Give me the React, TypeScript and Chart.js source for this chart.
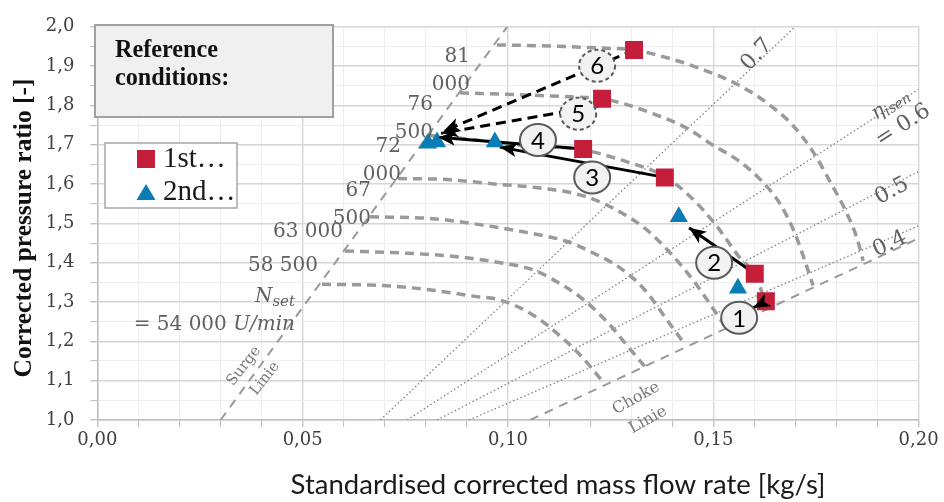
import React, { useEffect, useRef } from 'react';
import { Chart, registerables } from 'chart.js';
Chart.register(...registerables);

const RED = '#C41E3A';
const BLUE = '#0B7DB5';
const SPEED_GREY = '#9a9a9a';
const TEXT_GREY = '#606060';

// axis ranges
const xMin = 0, xMax = 0.2, xStep = 0.01;
const yMin = 1.0, yMax = 2.0, yStep = 0.05;

// measured operating points
const legendLabels = ['1st…', '2nd…'];
const firstX = [0.1307, 0.1229, 0.1183, 0.1382, 0.1601, 0.1628];
const firstY = [1.941, 1.817, 1.689, 1.617, 1.372, 1.302];
const secondX = [0.1560, 0.1416, 0.0968, 0.0827, 0.0805];
const secondY = [1.335, 1.517, 1.707, 1.707, 1.704];

// speed lines
const s54X = [0.0547, 0.0696, 0.0817, 0.0915, 0.0981, 0.1061, 0.1134, 0.1183, 0.1229];
const s54Y = [1.345, 1.342, 1.330, 1.315, 1.305, 1.267, 1.207, 1.157, 1.100];
const s58X = [0.0603, 0.0737, 0.0859, 0.0981, 0.1061, 0.1110, 0.1183, 0.1248, 0.1292, 0.1334];
const s58Y = [1.430, 1.425, 1.417, 1.400, 1.382, 1.357, 1.307, 1.242, 1.187, 1.135];
const s63X = [0.0664, 0.0817, 0.0949, 0.1061, 0.1144, 0.1207, 0.1273, 0.1334, 0.1382, 0.1431];
const s63Y = [1.517, 1.512, 1.494, 1.474, 1.454, 1.425, 1.387, 1.330, 1.262, 1.192];
const s67X = [0.0732, 0.0842, 0.0981, 0.1061, 0.1158, 0.1207, 0.1273, 0.1334, 0.1395, 0.1455, 0.1497, 0.1533];
const s67Y = [1.614, 1.612, 1.599, 1.592, 1.577, 1.562, 1.529, 1.487, 1.425, 1.350, 1.287, 1.232];
const s72X = [0.0805, 0.0907, 0.1029, 0.1183, 0.1273, 0.1382, 0.1443, 0.1504, 0.1565, 0.1601, 0.1633];
const s72Y = [1.724, 1.714, 1.699, 1.687, 1.662, 1.619, 1.569, 1.499, 1.412, 1.370, 1.282];
const s76X = [0.0883, 0.1029, 0.1151, 0.1229, 0.1273, 0.1353, 0.1436, 0.1499, 0.1558, 0.1614, 0.1663, 0.1699, 0.1723, 0.1743];
const s76Y = [1.832, 1.827, 1.822, 1.817, 1.807, 1.779, 1.742, 1.699, 1.662, 1.612, 1.549, 1.474, 1.405, 1.342];
const s81X = [0.0973, 0.1102, 0.1224, 0.1307, 0.1395, 0.1475, 0.1558, 0.1630, 0.1694, 0.1743, 0.1784, 0.1826, 0.1850, 0.1865];
const s81Y = [1.954, 1.951, 1.946, 1.941, 1.919, 1.891, 1.854, 1.807, 1.749, 1.682, 1.607, 1.524, 1.462, 1.405];
const speedXs = [s54X, s58X, s63X, s67X, s72X, s76X, s81X];
const speedYs = [s54Y, s58Y, s63Y, s67Y, s72Y, s76Y, s81Y];
const speedLabelLines = [['N', '= 54 000 '], ['58 500'], ['63 000'], ['67', '500'], ['72', '000'], ['76', '500'], ['81', '000']];

// surge and choke lines
const surgeX = [0.0300, 0.0998];
const surgeY = [1.0, 2.0];
const chokeX = [0.1054, 0.2];
const chokeY = [1.0, 1.462];

// isentropic efficiency lines
const effNames = ['0.7', '0.6', '0.5', '0.4'];
const effX0 = [0.0689, 0.0754, 0.0827, 0.0905];
const effX1 = [0.1699, 0.2, 0.2, 0.2];
const effY0 = [1.0, 1.0, 1.0, 1.0];
const effY1 = [2.0, 1.841, 1.632, 1.494];
const effLabelX = [0.1606, 0.1962, 0.1935, 0.1930];
const effLabelY = [1.929, 1.749, 1.582, 1.447];
const effLabelAngle = [-47, -33, -28, -25];

// arrows between operating points
const arrowFromX = [0.1628, 0.1601, 0.1382, 0.1183, 0.1225, 0.1307];
const arrowFromY = [1.302, 1.372, 1.617, 1.689, 1.800, 1.941];
const arrowToX = [0.1597, 0.1441, 0.0980, 0.0830, 0.0837, 0.0842];
const arrowToY = [1.285, 1.489, 1.694, 1.719, 1.729, 1.734];
const arrowDashed = [false, false, false, false, true, true];

// circled step numbers
const stepNames = ['1', '2', '3', '4', '5', '6'];
const stepX = [0.1563, 0.1502, 0.1205, 0.1073, 0.1171, 0.1217];
const stepY = [1.260, 1.400, 1.617, 1.712, 1.779, 1.901];
const stepDashed = [false, false, false, false, true, true];

const pts = (xs: number[], ys: number[]) => xs.map((x, i) => ({ x, y: ys[i] }));

function fitSize(ctx: CanvasRenderingContext2D, text: string, fam: string, weight: string, target: number) {
  ctx.font = `${weight} 20px ${fam}`;
  const w = ctx.measureText(text).width;
  return (20 * target) / w;
}

function rotText(ctx: CanvasRenderingContext2D, text: string, x: number, y: number, deg: number, font: string, color: string) {
  ctx.save();
  ctx.translate(x, y);
  ctx.rotate((deg * Math.PI) / 180);
  ctx.font = font;
  ctx.fillStyle = color;
  ctx.textAlign = 'center';
  ctx.textBaseline = 'middle';
  ctx.fillText(text, 0, 0);
  ctx.restore();
}

const annotPlugin = {
  id: 'annot',
  afterDatasetsDraw(chart: any) {
    const ctx: CanvasRenderingContext2D = chart.ctx;
    const xs = chart.scales.x, ys = chart.scales.y;
    const X = (v: number) => xs.getPixelForValue(v);
    const Y = (v: number) => ys.getPixelForValue(v);
    ctx.save();

    // arrowheads
    for (let i = 0; i < arrowFromX.length; i++) {
      const x0 = X(arrowFromX[i]), y0 = Y(arrowFromY[i]);
      const x1 = X(arrowToX[i]), y1 = Y(arrowToY[i]);
      const a = Math.atan2(y1 - y0, x1 - x0);
      const L = 17, W = 7;
      ctx.beginPath();
      ctx.moveTo(x1, y1);
      ctx.lineTo(x1 - L * Math.cos(a) + W * Math.sin(a), y1 - L * Math.sin(a) - W * Math.cos(a));
      ctx.lineTo(x1 - L * 0.75 * Math.cos(a), y1 - L * 0.75 * Math.sin(a));
      ctx.lineTo(x1 - L * Math.cos(a) - W * Math.sin(a), y1 - L * Math.sin(a) + W * Math.cos(a));
      ctx.closePath();
      ctx.fillStyle = '#000';
      ctx.fill();
    }

    // circled numbers
    for (let i = 0; i < stepNames.length; i++) {
      const cx = X(stepX[i]), cy = Y(stepY[i]);
      ctx.beginPath();
      ctx.ellipse(cx, cy, 18, 16, 0, 0, Math.PI * 2);
      ctx.fillStyle = '#f2f2f2';
      ctx.fill();
      ctx.lineWidth = 2;
      ctx.strokeStyle = '#5a5a5a';
      ctx.setLineDash(stepDashed[i] ? [4, 3] : []);
      ctx.stroke();
      ctx.setLineDash([]);
      ctx.fillStyle = '#000';
      ctx.font = '24px Lato';
      ctx.textAlign = 'center';
      ctx.textBaseline = 'middle';
      ctx.fillText(stepNames[i], cx, cy + 1);
    }

    // speed labels
    ctx.fillStyle = TEXT_GREY;
    ctx.textBaseline = 'alphabetic';
    for (let i = 0; i < speedLabelLines.length; i++) {
      const px = X(speedXs[i][0]), py = Y(speedYs[i][0]);
      const right = px - 27;
      const lines = speedLabelLines[i];
      if (i === 0) {
        ctx.font = 'italic 15px "DejaVu Serif"';
        const wSet = ctx.measureText('set').width;
        ctx.textAlign = 'right';
        ctx.fillText('set', right, py + 22);
        ctx.font = 'italic 20px "DejaVu Serif"';
        ctx.fillText(lines[0], right - wSet, py + 18);
        ctx.font = 'italic 20px "DejaVu Serif"';
        const wU = ctx.measureText('U/min').width;
        ctx.fillText('U/min', right, py + 46);
        ctx.font = '20px "DejaVu Serif"';
        ctx.fillText(lines[1], right - wU, py + 46);
      } else if (lines.length === 1) {
        ctx.font = '20px "DejaVu Serif"';
        ctx.textAlign = 'right';
        ctx.fillText(lines[0], right, py + 20);
      } else {
        ctx.font = '20px "DejaVu Serif"';
        ctx.textAlign = 'right';
        ctx.fillText(lines[0], right, py + 17);
        ctx.fillText(lines[1], right, py + 45);
      }
    }

    // efficiency labels
    for (let i = 0; i < effNames.length; i++) {
      const lx = X(effLabelX[i]), ly = Y(effLabelY[i]);
      if (effNames[i] === '0.6') {
        ctx.save();
        ctx.translate(lx - 12, ly - 20);
        ctx.rotate((effLabelAngle[i] * Math.PI) / 180);
        ctx.fillStyle = TEXT_GREY;
        ctx.textBaseline = 'alphabetic';
        ctx.textAlign = 'left';
        ctx.font = 'italic 20px "DejaVu Serif"';
        const wEta = ctx.measureText('η').width;
        ctx.font = 'italic 14px "DejaVu Serif"';
        const wIsen = ctx.measureText('isen').width;
        const start = -(wEta + wIsen) / 2;
        ctx.font = 'italic 20px "DejaVu Serif"';
        ctx.fillText('η', start, 4);
        ctx.font = 'italic 14px "DejaVu Serif"';
        ctx.fillText('isen', start + wEta, 7);
        ctx.restore();
        rotText(ctx, '= ' + effNames[i], lx, ly, effLabelAngle[i], '22px "DejaVu Serif"', TEXT_GREY);
      } else {
        rotText(ctx, effNames[i], lx, ly, effLabelAngle[i], '22px "DejaVu Serif"', TEXT_GREY);
      }
    }

    // surge / choke labels
    rotText(ctx, 'Surge', X(0.0357), Y(1.137), -52, '15px "DejaVu Serif"', '#7a7a7a');
    rotText(ctx, 'Linie', X(0.0408), Y(1.105), -52, '15px "DejaVu Serif"', '#7a7a7a');
    rotText(ctx, 'Choke', X(0.1312), Y(1.055), -29, '16px "DejaVu Serif"', '#7a7a7a');
    rotText(ctx, 'Linie', X(0.1341), Y(1.0), -29, '16px "DejaVu Serif"', '#7a7a7a');

    // reference conditions box
    ctx.fillStyle = '#f0f0f0';
    ctx.fillRect(95, 25, 238, 92);
    ctx.strokeStyle = '#a0a0a0';
    ctx.lineWidth = 2;
    ctx.strokeRect(95, 25, 238, 92);
    const refSize = fitSize(ctx, 'Reference', '"Liberation Serif"', 'bold', 103);
    ctx.font = `bold ${refSize}px "Liberation Serif"`;
    ctx.fillStyle = '#111';
    ctx.textAlign = 'left';
    ctx.textBaseline = 'alphabetic';
    ctx.fillText('Reference', 115, 57);
    ctx.fillText('conditions:', 115, 85);

    // legend
    ctx.fillStyle = '#fff';
    ctx.fillRect(105, 143, 132, 65);
    ctx.strokeStyle = '#a6a6a6';
    ctx.lineWidth = 1.5;
    ctx.strokeRect(105, 143, 132, 65);
    ctx.fillStyle = RED;
    ctx.fillRect(137, 150, 18, 18);
    ctx.fillStyle = BLUE;
    ctx.beginPath();
    ctx.moveTo(146, 184);
    ctx.lineTo(155.5, 200);
    ctx.lineTo(136.5, 200);
    ctx.closePath();
    ctx.fill();
    ctx.fillStyle = '#1a1a1a';
    ctx.font = '29px "Liberation Serif"';
    ctx.fillText(legendLabels[0], 163, 167);
    ctx.fillText(legendLabels[1], 163, 200);

    // axis titles
    const yt = 'Corrected pressure ratio [-]';
    const ytSize = fitSize(ctx, yt, '"Liberation Serif"', 'bold', 299);
    ctx.save();
    ctx.translate(24, 228);
    ctx.rotate(-Math.PI / 2);
    ctx.font = `bold ${ytSize}px "Liberation Serif"`;
    ctx.fillStyle = '#111';
    ctx.textAlign = 'center';
    ctx.textBaseline = 'middle';
    ctx.fillText(yt, 0, 0);
    ctx.restore();

    const xt = 'Standardised corrected mass flow rate [kg/s]';
    const xtSize = fitSize(ctx, xt, 'Lato', 'normal', 535);
    ctx.font = `${xtSize}px Lato`;
    ctx.fillStyle = '#1a1a1a';
    ctx.textAlign = 'center';
    ctx.textBaseline = 'middle';
    ctx.fillText(xt, 558, 485);

    ctx.restore();
  },
};

export default function App() {
  const ref = useRef<HTMLCanvasElement | null>(null);
  useEffect(() => {
    document.body.style.margin = '0';
    const canvas = ref.current!;
    const datasets: any[] = [];
    datasets.push({
      label: legendLabels[0], data: pts(firstX, firstY), showLine: false,
      pointStyle: 'rect', pointRadius: 12.7, backgroundColor: RED, borderWidth: 0, order: 0,
    });
    datasets.push({
      label: legendLabels[1], data: pts(secondX, secondY), showLine: false,
      pointStyle: 'triangle', pointRadius: 10.5, backgroundColor: BLUE, borderWidth: 0, order: 0,
    });
    for (let i = 0; i < arrowFromX.length; i++) {
      datasets.push({
        data: [{ x: arrowFromX[i], y: arrowFromY[i] }, { x: arrowToX[i], y: arrowToY[i] }],
        showLine: true, pointRadius: 0, borderColor: '#000', borderWidth: 3,
        borderDash: arrowDashed[i] ? [10, 6] : [], order: 1,
      });
    }
    for (let i = 0; i < speedXs.length; i++) {
      datasets.push({
        data: pts(speedXs[i], speedYs[i]), showLine: true, pointRadius: 0,
        borderColor: SPEED_GREY, borderWidth: 3.5, borderDash: [9, 6],
        cubicInterpolationMode: 'monotone', order: 2,
      });
    }
    datasets.push({
      data: pts(surgeX, surgeY), showLine: true, pointRadius: 0, borderColor: SPEED_GREY,
      borderWidth: 2, borderDash: [9, 7], order: 3,
    });
    datasets.push({
      data: pts(chokeX, chokeY), showLine: true, pointRadius: 0, borderColor: SPEED_GREY,
      borderWidth: 2, borderDash: [9, 7], order: 3,
    });
    for (let i = 0; i < effNames.length; i++) {
      datasets.push({
        data: [{ x: effX0[i], y: effY0[i] }, { x: effX1[i], y: effY1[i] }],
        showLine: true, pointRadius: 0, borderColor: '#808080', borderWidth: 1.3,
        borderDash: [1.5, 2.5], order: 4,
      });
    }

    const isMajor = (v: number, every: number) => Math.round(v * 100) % every === 0;

    const chart = new Chart(canvas, {
      type: 'scatter',
      data: { datasets },
      options: {
        animation: false,
        responsive: false,
        events: [],
        layout: { padding: { left: 0, top: 19.5, right: 25.4, bottom: 0 } },
        plugins: { legend: { display: false }, tooltip: { enabled: false } },
        scales: {
          x: {
            type: 'linear', min: xMin, max: xMax,
            afterFit: (s: any) => { s.height = 82; },
            ticks: {
              stepSize: xStep, autoSkip: false, maxRotation: 0, padding: 3,
              color: '#404040', font: { family: '"DejaVu Serif"', size: 18 },
              callback: (v: any) => (isMajor(Number(v), 5) ? Number(v).toFixed(2).replace('.', ',') : ''),
            },
            grid: {
              color: (c: any) => (c.tick && isMajor(c.tick.value, 5) ? '#d6d6d6' : '#eeeeee'),
              lineWidth: (c: any) => (c.tick && isMajor(c.tick.value, 5) ? 1.4 : 1.1),
              tickColor: '#c0c0c0', tickLength: 7,
            },
            border: { color: '#c0c0c0', width: 1.5 },
          },
          y: {
            type: 'linear', min: yMin, max: yMax,
            afterFit: (s: any) => { s.width = 97.4; },
            ticks: {
              stepSize: yStep, autoSkip: false, padding: 16,
              color: '#404040', font: { family: '"DejaVu Serif"', size: 18 },
              callback: (v: any) => (isMajor(Number(v), 10) ? Number(v).toFixed(1).replace('.', ',') : ''),
            },
            grid: {
              color: (c: any) => (c.tick && isMajor(c.tick.value, 10) ? '#d6d6d6' : '#eeeeee'),
              lineWidth: (c: any) => (c.tick && isMajor(c.tick.value, 10) ? 1.4 : 1.1),
              tickColor: '#c0c0c0', tickLength: 7,
            },
            border: { color: '#c0c0c0', width: 1.5 },
          },
        },
      } as any,
      plugins: [annotPlugin],
    });
    return () => chart.destroy();
  }, []);
  return (
    <div style={{ position: 'absolute', left: 0, top: 0, width: 944, height: 502 }}>
      <canvas ref={ref} width={944} height={502} style={{ display: 'block' }} />
    </div>
  );
}
